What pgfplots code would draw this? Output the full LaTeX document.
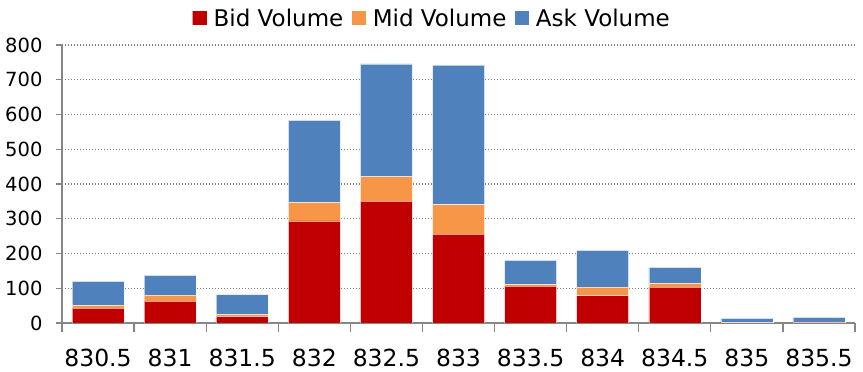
\documentclass[border=0pt]{standalone}
\usepackage{fontspec}
\setmainfont{DejaVu Sans}
\usepackage{pgfplots}
\pgfplotsset{compat=1.18}
\definecolor{bidc}{HTML}{C00000}
\definecolor{midc}{HTML}{F79646}
\definecolor{askc}{HTML}{4F81BD}
\definecolor{axc}{RGB}{134,134,134}
\begin{document}
\begin{tikzpicture}
\begin{axis}[
  scale only axis,
  width=793pt, height=278pt,
  ybar stacked,
  bar width=52pt,
  xmin=-0.5, xmax=10.5,
  ymin=0, ymax=800,
  ytick={0,100,...,800},
  xtick={0,...,10},
  xticklabels={830.5,831,831.5,832,832.5,833,833.5,834,834.5,835,835.5},
  xtick style={draw=none},
  extra x ticks={-0.5,0.5,...,10.5},
  extra x tick labels={},
  extra x tick style={major tick length=9pt, xtick style={draw=axc, line width=1.2pt}, grid=none},
  ytick style={draw=axc, line width=1.2pt},
  major tick length=6pt,
  tick align=outside,
  axis x line*=bottom,
  axis y line*=left,
  axis line style={draw=axc, line width=1.5pt},
  ymajorgrids,
  grid style={draw=black!50, line width=1.4pt, dash pattern=on 1.4pt off 1.6pt},
  /pgf/number format/assume math mode=true,
  xticklabel style={font=\fontsize{23.5}{24}\selectfont, yshift=-17pt},
  yticklabel style={font=\fontsize{19.5}{20}\selectfont, xshift=-10pt},
  legend style={at={(0.4666,1.097)}, anchor=center, draw=none, fill=none,
    font=\fontsize{23}{24}\selectfont, legend columns=3,
    /tikz/every even column/.append style={column sep=6pt}},
  legend image code/.code={\fill[#1] (0pt,-7pt) rectangle (14.5pt,7.5pt); \path (0pt,0pt) (19pt,0pt);},
]
\addplot[fill=bidc, draw=white, draw opacity=0.6, line width=0.5pt] coordinates {
(0,43) (1,63) (2,19) (3,294) (4,351) (5,256) (6,106) (7,79) (8,103) (9,1) (10,2)};
\addplot[fill=midc, draw=white, draw opacity=0.6, line width=0.5pt] coordinates {
(0,8) (1,17) (2,6) (3,53) (4,71) (5,85) (6,5) (7,24) (8,11) (9,1) (10,1)};
\addplot[fill=askc, draw=white, draw opacity=0.6, line width=0.5pt] coordinates {
(0,69) (1,57) (2,57) (3,236) (4,324) (5,401) (6,69) (7,106) (8,46) (9,11) (10,13)};
\legend{Bid Volume, Mid Volume, Ask Volume}
\end{axis}
\pgfresetboundingbox
\path (current axis.south west) ++(-62pt,-49pt) rectangle ++(863pt,372pt);
\end{tikzpicture}
\end{document}
